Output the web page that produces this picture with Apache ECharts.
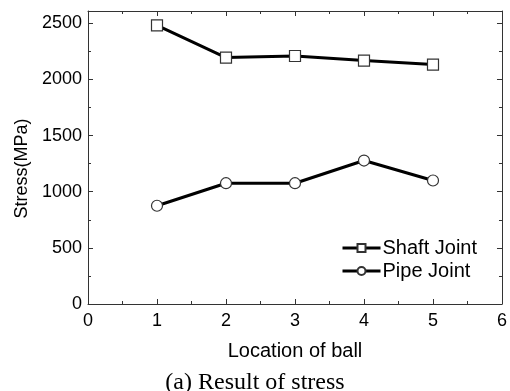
<!DOCTYPE html>
<html>
<head>
<meta charset="utf-8">
<script src="https://cdn.jsdelivr.net/npm/echarts@6/dist/echarts.min.js"></script>
<style>
    html, body { margin: 0; padding: 0; background: #fff; }
    #chart { width: 510px; height: 391px; }
</style>
</head>
<body>
<div id="chart"></div>
<script>
// ball locations and stress values
const locations = [1, 2, 3, 4, 5];
const shaftJoint = [2482, 2195, 2209, 2168, 2133];
const pipeJoint = [875, 1076, 1076, 1278, 1100];
const yTicks = [0, 500, 1000, 1500, 2000, 2500];

const FONT = 'Liberation Sans, Arial, sans-serif';

const frameAxis = {
    axisLine: { show: true, onZero: false, lineStyle: { color: '#333', width: 1 } },
    axisTick: { show: true, inside: true, length: 5, lineStyle: { color: '#333' } },
    minorTick: { show: true, splitNumber: 2, length: 3, lineStyle: { color: '#333' } },
    splitLine: { show: false }
};

const chart = echarts.init(document.getElementById('chart'));

chart.setOption({
    animation: false,
    grid: { left: 88, right: 8, top: 11, bottom: 87 },
    title: {
        text: '(a) Result of stress',
        left: 'center',
        top: 371,
        padding: 0,
        textStyle: {
            fontFamily: 'Liberation Serif, Times New Roman, serif',
            fontWeight: 'normal',
            fontSize: 24,
            color: '#000'
        }
    },
    legend: {
        orient: 'vertical',
        left: 336,
        top: 233,
        itemWidth: 38,
        itemHeight: 10,
        itemGap: 3,
        lineStyle: { width: 3, color: '#000' },
        textStyle: { fontFamily: FONT, fontSize: 20, color: '#000', padding: [0, 0, 0, -3] },
        data: ['Shaft Joint', 'Pipe Joint']
    },
    xAxis: [
        {
            ...frameAxis,
            type: 'value',
            min: 0,
            max: 6,
            interval: 1,
            name: 'Location of ball',
            nameLocation: 'middle',
            nameGap: 37,
            nameTextStyle: { fontFamily: FONT, fontSize: 20, color: '#000' },
            axisLabel: { fontFamily: FONT, fontSize: 18, color: '#000', margin: 8 }
        },
        {
            ...frameAxis,
            type: 'value',
            position: 'top',
            min: 0,
            max: 6,
            interval: 1,
            axisLabel: { show: false }
        }
    ],
    yAxis: [
        {
            ...frameAxis,
            type: 'value',
            min: 0,
            max: 2610,
            interval: 500,
            name: 'Stress(MPa)',
            nameLocation: 'middle',
            nameGap: 57,
            nameTextStyle: {
                fontFamily: FONT,
                fontSize: 18,
                color: '#000',
                padding: [0, 22, 0, 0]
            },
            axisLabel: {
                fontFamily: FONT,
                fontSize: 18,
                color: '#000',
                margin: 6,
                formatter: v => (yTicks.indexOf(v) >= 0 ? String(v) : '')
            }
        },
        {
            ...frameAxis,
            type: 'value',
            position: 'right',
            min: 0,
            max: 2610,
            interval: 500,
            axisLabel: { show: false }
        }
    ],
    series: [
        {
            name: 'Shaft Joint',
            type: 'line',
            xAxisIndex: 0,
            yAxisIndex: 0,
            data: locations.map((x, i) => [x, shaftJoint[i]]),
            symbol: 'rect',
            symbolSize: 11,
            lineStyle: { color: '#000', width: 3 },
            itemStyle: { color: '#fff', borderColor: '#333', borderWidth: 1.2 }
        },
        {
            name: 'Pipe Joint',
            type: 'line',
            xAxisIndex: 0,
            yAxisIndex: 0,
            data: locations.map((x, i) => [x, pipeJoint[i]]),
            symbol: 'circle',
            symbolSize: 11,
            lineStyle: { color: '#000', width: 3 },
            itemStyle: { color: '#fff', borderColor: '#333', borderWidth: 1.2 }
        }
    ]
});
</script>
</body>
</html>
